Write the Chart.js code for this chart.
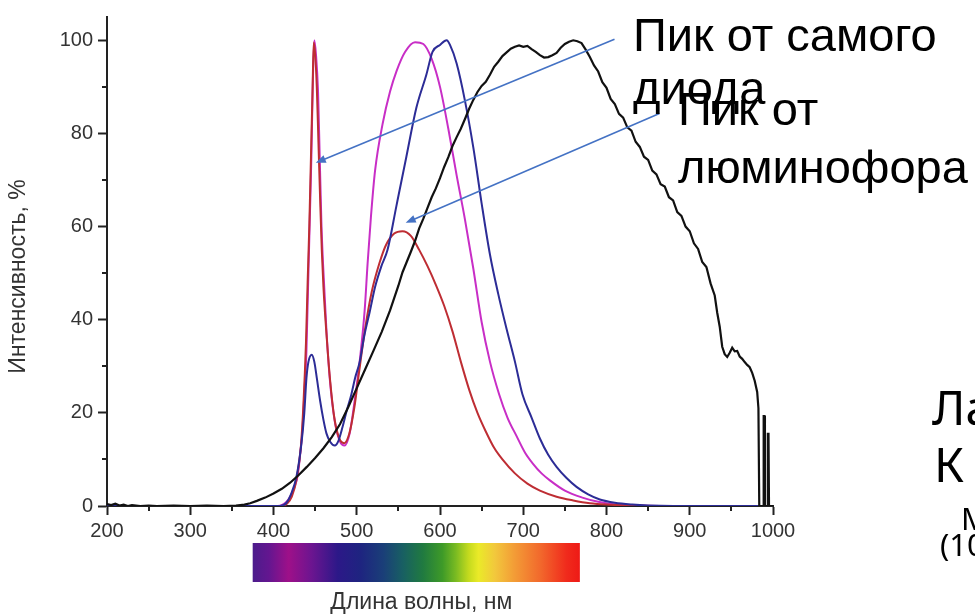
<!DOCTYPE html>
<html>
<head>
<meta charset="utf-8">
<script src="https://cdn.jsdelivr.net/npm/chart.js@4.4.1/dist/chart.umd.min.js"></script>
<style>
  html, body { margin: 0; padding: 0; background: #ffffff; }
  canvas { display: block; }
</style>
</head>
<body>
<canvas id="spectra" width="975" height="614"></canvas>
<script>
// Axis ticks (wavelength, nm / intensity, %)
const xTickValues = [200, 300, 400, 500, 600, 700, 800, 900, 1000];
const xMinorTickValues = [250, 350, 450, 550, 650, 750, 850, 950];
const yTickValues = [0, 20, 40, 60, 80, 100];
const yMinorTickValues = [10, 30, 50, 70, 90];

// Incandescent-like broad spectrum (black)
const blackWl = [200,205,210,215,220,225,230,240,250,260,280,300,320,340,355,365,372,380,390,400,
  410,420,430,440,450,460,470,480,490,500,510,520,530,540,550,555,560,565,570,575,580,585,590,595,
  600,605,610,615,620,625,630,635,640,645,650,655,660,665,670,675,680,685,690,695,700,705,710,715,
  720,725,730,735,740,745,750,755,760,765,770,775,780,785,790,795,800,805,810,815,820,825,830,835,
  840,845,850,855,860,865,870,875,880,885,890,895,900,905,910,915,920,925,930,933,936,939,942,945,
  948,951,954,957,960,963,966,969,972,975,978,981,982.5,983.5,988,988.8,989.8,990.3,993.2,993.8,
  994.6,995.2,1000];
const blackI = [0.4,0.2,0.5,0.1,0.3,0.0,0.2,0,0.1,0,0.1,0,0.1,0,0.1,0.3,0.6,1.1,1.8,2.7,
  3.7,5.0,6.6,8.4,10.3,12.4,14.8,17.6,21.3,25.3,29.3,33.3,37.4,42.0,47.3,50.2,52.4,54.6,56.9,59.6,61.7,64.0,66.3,68.2,
  70.4,72.8,74.9,77.3,79.2,81.0,83.1,85.3,87.2,88.9,90.2,91.1,92.6,94.3,95.4,96.6,97.4,98.2,98.6,98.9,98.6,98.8,98.1,97.5,
  96.8,96.3,96.4,96.8,97.3,98.4,99.2,99.7,100,99.8,99.4,98.0,96.4,94.6,93.3,91.0,89.8,87.4,86.3,84.2,83.4,81.3,80.6,78.2,
  77.1,75.0,74.3,72.0,71.2,69.1,68.6,66.3,65.6,63.1,62.3,60.0,59.0,56.4,55.2,52.4,51.3,47.8,45.2,41.5,38.5,34.2,32.6,32.0,
  32.9,34.0,33.2,33.3,32.1,31.6,30.9,30.3,29.8,28.6,26.9,24.5,21,0,0,19.3,19.3,0,0,15.5,
  15.5,0,0];

// LED spectrum with strong blue peak (blue)
const blueWl = [200,400,408,415.6,421,427.6,433.6,437,439.6,442,446,449,452,456,460,463.6,468,473.6,478,483,
  488,493.6,498,503.6,509,515.6,522,529.6,537,547.6,559.6,571.6,583.6,591,600,608,612,620,630,640,
  650,660,670,680,690,699,710,720,730,740,752,764,778,792,810,831,850,880,1000];
const blueI = [0,0,0,0.7,2.5,6.3,13.5,20,27.5,31,32.5,31,27.5,22.6,18.5,15.6,13.8,13,14,17,
  20.5,24,27.5,31,36.5,41.7,47,51.5,55,64.4,75,85.5,92.6,97.5,99,100,99,95,87,77,
  65,54,45.5,38,31,24,19,14.5,11,8.4,6,4.1,2.5,1.4,0.7,0.3,0.1,0,0];

// LED spectrum, warm phosphor (red)
const redWl = [200,400,410,416,422,428,433,436,439,441,443,445,447,448.3,450,452,454,456,458,460,
  464,468,473,479,485,491,497,503,510,518,527,535,545,555,565,575,585,595,605,615,
  625,635,645,655,665,675,690,705,720,740,760,780,800,830,860,1000];
const redI = [0,0,0,0.5,2,6,13,22,35,48,60,75,90,99.5,97,90,78,66,55,47,
  36,27,19,14.5,13.5,15.5,21,29,38,46,52,56,58.5,59,58,55,51.5,47.5,43,37.5,
  31,25,20,16,12.5,10,7,4.8,3.3,2,1.2,0.6,0.3,0.1,0,0];

// LED spectrum, neutral phosphor (magenta)
const magentaWl = [200,405,411,416,420,425,429,432,435,437,439.5,441.5,443.5,445.5,447,449,451,453.5,455.5,457.5,
  459.5,463.5,467.5,473.5,479.5,485.5,491.5,497.5,503.5,509.5,513,517,522,531,540,548,558,570,580,590,
  600,610,620,630,640,650,660,671,681,692,702,712,722,732,750,771,790,812,840,870,1000];
const magentaI = [0,0,0.3,1,2,4,6.5,11,17,24,33,47,61,75,89,100,97,89,75,61,
  52,38,27.5,18.3,14,13,15.6,22.6,31,42,52,62,72,82,89,93.5,97.5,99.6,99.2,96,
  90,81,71,61.5,51,39.5,31,24,19,15,11.5,9,7,5.5,3.3,1.8,0.9,0.3,0.1,0,0];

const toPoints = (xs, ys) => xs.map((x, i) => ({ x: x, y: ys[i] }));

const ARROW_BLUE = '#4472c4';
const SANS = '"Liberation Sans", Arial, sans-serif';

// Extra drawing: minor ticks, spectrum bar, axis captions, callouts
const decorations = {
  id: 'decorations',
  afterDraw(chart) {
    const ctx = chart.ctx;
    const xs = chart.scales.x, ys = chart.scales.y;
    const area = chart.chartArea;
    ctx.save();

    // minor ticks
    ctx.strokeStyle = '#222';
    ctx.lineWidth = 2;
    ctx.beginPath();
    xMinorTickValues.forEach(v => {
      const px = Math.round(xs.getPixelForValue(v));
      ctx.moveTo(px, area.bottom);
      ctx.lineTo(px, area.bottom + 5);
    });
    yMinorTickValues.forEach(v => {
      const py = Math.round(ys.getPixelForValue(v));
      ctx.moveTo(area.left, py);
      ctx.lineTo(area.left - 5, py);
    });
    ctx.stroke();

    // visible spectrum bar under the wavelength axis
    const barL = xs.getPixelForValue(375), barR = xs.getPixelForValue(768);
    const barT = area.bottom + 37, barB = area.bottom + 76;
    const g = ctx.createLinearGradient(barL, 0, barR, 0);
    [[0.00,'#4c1c8c'],[0.05,'#641690'],[0.11,'#9e1089'],[0.18,'#6c1590'],[0.26,'#2c1888'],
     [0.33,'#1e2480'],[0.40,'#1a3f78'],[0.46,'#186062'],[0.52,'#207a40'],[0.58,'#3e9a28'],
     [0.62,'#78ba22'],[0.66,'#c4da1e'],[0.69,'#eaea28'],[0.74,'#f2c83c'],[0.80,'#f39c36'],
     [0.88,'#f2682c'],[0.96,'#f02a1c'],[1.00,'#ee1a16']].forEach(s => g.addColorStop(s[0], s[1]));
    ctx.fillStyle = g;
    ctx.fillRect(barL, barT, barR - barL, barB - barT);

    // axis captions
    ctx.fillStyle = '#333';
    ctx.font = '23px ' + SANS;
    ctx.textAlign = 'center';
    ctx.textBaseline = 'alphabetic';
    ctx.fillText('Длина волны, нм', (barL + barR) / 2 + 5, 609);
    ctx.save();
    ctx.translate(25, (area.top + area.bottom) / 2 + 15);
    ctx.rotate(-Math.PI / 2);
    ctx.fillText('Интенсивность, %', 0, 0);
    ctx.restore();

    // callout arrows
    const arrow = (x1, y1, x2, y2) => {
      const a = xs.getPixelForValue(x1), b = ys.getPixelForValue(y1);
      const c = xs.getPixelForValue(x2), d = ys.getPixelForValue(y2);
      const ang = Math.atan2(d - b, c - a);
      ctx.strokeStyle = ARROW_BLUE;
      ctx.fillStyle = ARROW_BLUE;
      ctx.lineWidth = 1.6;
      ctx.beginPath();
      ctx.moveTo(a, b);
      ctx.lineTo(c - 6 * Math.cos(ang), d - 6 * Math.sin(ang));
      ctx.stroke();
      ctx.beginPath();
      ctx.moveTo(c, d);
      ctx.lineTo(c - 10 * Math.cos(ang) + 4 * Math.sin(ang), d - 10 * Math.sin(ang) - 4 * Math.cos(ang));
      ctx.lineTo(c - 10 * Math.cos(ang) - 4 * Math.sin(ang), d - 10 * Math.sin(ang) + 4 * Math.cos(ang));
      ctx.closePath();
      ctx.fill();
    };
    arrow(809.6, 100.2, 450.8, 73.7);
    arrow(863.6, 84.3, 558.8, 60.8);

    // callout captions
    ctx.fillStyle = '#000';
    ctx.textAlign = 'left';
    ctx.font = '47px ' + SANS;
    ctx.fillText('Пик от самого', 633, 51);
    ctx.fillText('диода', 633, 104);
    ctx.fillText('Пик от', 678, 125);
    ctx.fillText('люминофора', 678, 183);

    // slide text at the right edge
    ctx.font = '48px "Noto Sans", "Open Sans", sans-serif';
    ctx.fillText('Ла', 932, 425);
    ctx.fillText('К', 934, 482);
    ctx.font = '31px "Noto Sans", "Open Sans", sans-serif';
    ctx.fillText('М', 961, 530);
    ctx.fillText('(10', 940, 556);

    ctx.restore();
  }
};

new Chart(document.getElementById('spectra'), {
  type: 'line',
  data: {
    datasets: [
      { label: 'black', data: toPoints(blackWl, blackI), borderColor: '#111111', borderWidth: 2.2, tension: 0 },
      { label: 'blue', data: toPoints(blueWl, blueI), borderColor: '#2c2c96', borderWidth: 2, cubicInterpolationMode: 'monotone' },
      { label: 'red', data: toPoints(redWl, redI), borderColor: '#be2d33', borderWidth: 2, cubicInterpolationMode: 'monotone' },
      { label: 'magenta', data: toPoints(magentaWl, magentaI), borderColor: '#c82ec6', borderWidth: 2, cubicInterpolationMode: 'monotone' }
    ]
  },
  options: {
    responsive: false,
    animation: false,
    elements: { point: { radius: 0 } },
    layout: { padding: { left: 0, right: 202, top: 12, bottom: 0 } },
    plugins: { legend: { display: false }, tooltip: { enabled: false } },
    scales: {
      x: {
        type: 'linear',
        min: 200, max: 1000,
        afterFit: s => { s.height = 108; },
        afterBuildTicks: s => { s.ticks = xTickValues.map(v => ({ value: v })); },
        border: { display: true, color: '#222', width: 2 },
        grid: { drawOnChartArea: false, drawTicks: true, tickLength: 9, tickWidth: 2, tickColor: '#222' },
        ticks: { color: '#333', font: { family: SANS, size: 20 }, padding: 4, maxRotation: 0, autoSkip: false,
                 callback: v => String(v) }
      },
      y: {
        type: 'linear',
        min: 0, max: 105,
        afterFit: s => { s.width = 107; },
        afterBuildTicks: s => { s.ticks = yTickValues.map(v => ({ value: v })); },
        border: { display: true, color: '#222', width: 2 },
        grid: { drawOnChartArea: false, drawTicks: true, tickLength: 9, tickWidth: 2, tickColor: '#222' },
        ticks: { color: '#333', font: { family: SANS, size: 20 }, padding: 5, autoSkip: false,
                 callback: v => String(v) }
      }
    }
  },
  plugins: [decorations]
});
</script>
</body>
</html>
